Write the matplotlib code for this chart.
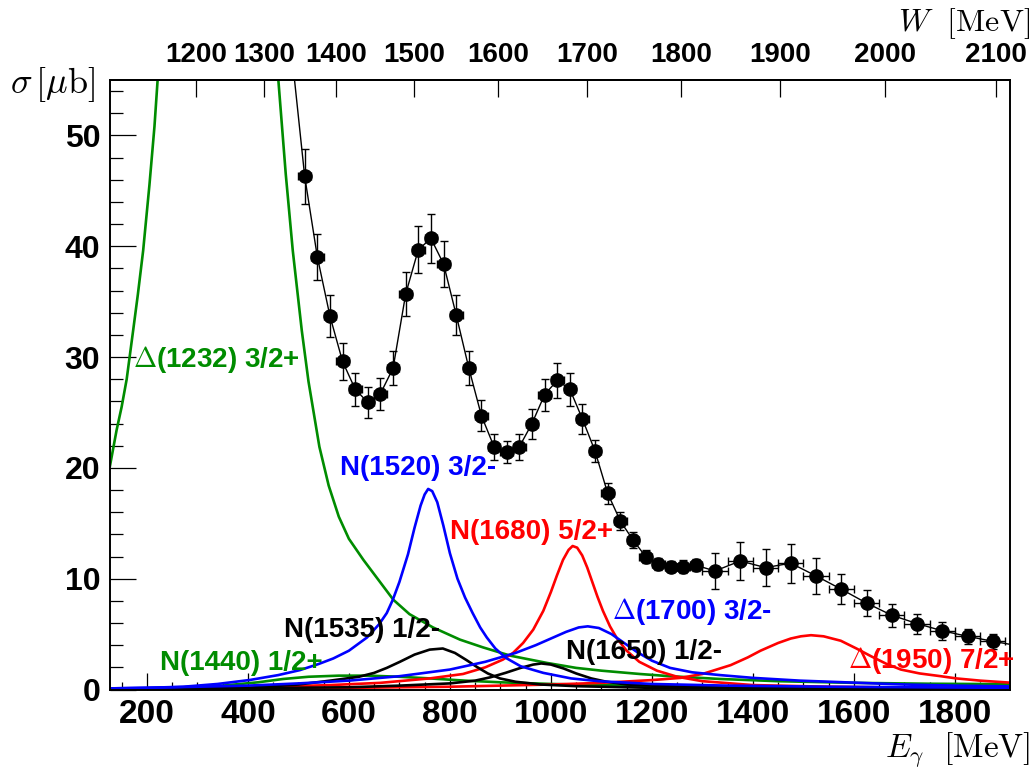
import numpy as np
import matplotlib
matplotlib.use('Agg')
import matplotlib.pyplot as plt
from matplotlib.ticker import MultipleLocator

plt.rcParams['font.family'] = ['Liberation Sans', 'DejaVu Sans']
plt.rcParams['font.weight'] = 'bold'
plt.rcParams['mathtext.fontset'] = 'cm'

M_P = 938.272  # proton mass [MeV]

# measured total cross section
e_gamma = [512.5, 537.5, 562.5, 587.5, 612.5, 637.5, 662.5, 687.5, 712.5, 737.5,
           762.5, 787.5, 812.5, 837.5, 862.5, 887.5, 912.5, 937.5, 962.5, 987.5,
           1012.5, 1037.5, 1062.5, 1087.5, 1112.5, 1137.5, 1162.5, 1187.5, 1212.5, 1237.5,
           1262.5, 1287.5, 1325, 1375, 1425, 1475, 1525, 1575, 1625, 1675,
           1725, 1775, 1825, 1875]
sigma = [46.3, 39.05, 33.7, 29.6, 27.1, 25.9, 26.7, 29.0, 35.7, 39.7,
         40.7, 38.4, 33.8, 29.0, 24.7, 21.9, 21.4, 21.9, 24.0, 26.6,
         27.9, 27.1, 24.4, 21.5, 17.7, 15.2, 13.5, 12.0, 11.3, 11.1,
         11.1, 11.2, 10.7, 11.6, 11.0, 11.4, 10.25, 9.05, 7.8, 6.7,
         5.95, 5.3, 4.8, 4.35]
sigma_err = [2.5, 2.1, 1.9, 1.7, 1.5, 1.4, 1.45, 1.55, 1.95, 2.1,
             2.2, 2.05, 1.8, 1.55, 1.4, 1.2, 1.0, 1.2, 1.35, 1.45,
             1.6, 1.5, 1.35, 1.0, 0.95, 0.8, 0.75, 0.6, 0.55, 0.5,
             0.55, 0.55, 1.65, 1.75, 1.7, 1.75, 1.6, 1.35, 1.2, 1.05,
             0.9, 0.8, 0.7, 0.65]
e_halfbin = [12.5] * 32 + [25] * 12
# neighbouring points of the connecting line outside the frame
line_e_before, line_s_before = 487.5, 57.1
line_e_after, line_s_after = 1925, 3.95

# resonance contributions
e_d1232 = [127, 140, 150, 160, 172.8, 182, 192.6, 205, 215, 222, 250, 340, 430, 460.5, 475, 488.9,
           506.7, 520, 541.6, 560, 580, 600, 628.7, 660, 688, 720, 766.6, 820, 865.6, 920, 992,
           1050, 1100, 1176, 1236, 1335, 1450, 1600, 1750, 1909]
s_d1232 = [20.2, 23.4, 25.5, 28.0, 32.4, 35.6, 39.6, 45.5, 50.8, 55.5, 75, 110, 72, 54.9, 46.5, 39.6,
           32.4, 27.8, 21.9, 18.4, 15.6, 13.6, 11.7, 9.8, 8.1, 6.8, 5.6, 4.5, 3.8, 3.05, 2.4,
           1.95, 1.7, 1.4, 1.2, 0.95, 0.75, 0.6, 0.52, 0.48]

e_n1440 = [127, 250, 350, 420, 470, 520, 580, 640, 700, 760, 830, 900, 1000, 1150, 1350, 1600, 1909]
s_n1440 = [0.05, 0.15, 0.35, 0.65, 0.95, 1.15, 1.25, 1.25, 1.15, 1.0, 0.8, 0.65, 0.5, 0.35, 0.25, 0.18, 0.12]

e_n1520 = [127, 200, 272, 340, 404, 460, 503, 540, 569, 600, 636, 660, 675, 687, 700, 717, 730, 742, 750,
           757, 765, 775, 787, 800, 815, 830, 845, 860, 873, 890, 911, 940, 985, 1040, 1095,
           1200, 1350, 1550, 1909]
s_n1520 = [0.1, 0.15, 0.25, 0.5, 0.86, 1.3, 1.75, 2.3, 2.8, 3.5, 4.7, 5.9, 6.9, 8.1, 9.7, 12.2, 14.6, 16.6, 17.6,
           18.1, 17.9, 16.9, 14.8, 12.3, 10.0, 8.3, 6.9, 5.6, 4.7, 3.7, 2.85, 2.1, 1.5, 1.0, 0.75,
           0.5, 0.35, 0.25, 0.15]

e_n1535 = [127, 400, 500, 563, 620, 650, 675, 701, 730, 760, 786, 810, 833, 853, 875, 899, 930, 980, 1050,
           1200, 1500, 1909]
s_n1535 = [0.02, 0.15, 0.45, 0.8, 1.15, 1.5, 1.95, 2.5, 3.15, 3.6, 3.7, 3.3, 2.65, 2.05, 1.45, 1.0, 0.7, 0.45, 0.3,
           0.15, 0.08, 0.05]

e_n1650 = [127, 600, 700, 800, 850, 880, 910, 940, 965, 981, 1000, 1025, 1050, 1080, 1110, 1150, 1250,
           1400, 1909]
s_n1650 = [0.01, 0.2, 0.35, 0.55, 0.8, 1.1, 1.5, 1.95, 2.25, 2.35, 2.25, 1.9, 1.45, 1.0, 0.7, 0.45, 0.25,
           0.12, 0.05]

e_n1680 = [127, 385, 563, 662, 760, 826, 870, 905, 925, 945, 965, 985, 1000, 1012, 1024, 1035, 1043, 1052,
           1062, 1072, 1082, 1092, 1103, 1117, 1131, 1150, 1175, 1210, 1250, 1300, 1400, 1550, 1750, 1909]
s_n1680 = [0.05, 0.15, 0.4, 0.6, 1.0, 1.4, 2.0, 2.7, 3.3, 4.2, 5.4, 7.1, 8.8, 10.3, 11.7, 12.6, 12.95, 12.8,
           12.1, 11.0, 9.7, 8.4, 7.1, 5.7, 4.6, 3.5, 2.5, 1.7, 1.15, 0.75, 0.4, 0.25, 0.15, 0.1]

e_d1700 = [127, 250, 400, 500, 600, 700, 800, 870, 930, 970, 1000, 1030, 1055, 1073, 1095, 1120, 1145,
           1170, 1200, 1236, 1280, 1335, 1400, 1493, 1600, 1700, 1800, 1909]
s_d1700 = [0.1, 0.2, 0.35, 0.55, 0.8, 1.2, 1.8, 2.5, 3.3, 4.0, 4.6, 5.2, 5.6, 5.7, 5.55, 5.0, 4.2,
           3.4, 2.6, 1.95, 1.55, 1.3, 1.05, 0.8, 0.62, 0.45, 0.35, 0.28]

e_d1950 = [127, 500, 800, 1000, 1100, 1200, 1257, 1300, 1356, 1390, 1415, 1450, 1475, 1495, 1515, 1540,
           1574, 1605, 1634, 1665, 1693, 1730, 1772, 1803, 1850, 1909]
s_d1950 = [0.02, 0.1, 0.25, 0.45, 0.6, 0.85, 1.05, 1.4, 2.2, 2.9, 3.5, 4.2, 4.6, 4.8, 4.9, 4.8,
           4.4, 3.7, 3.0, 2.3, 1.8, 1.45, 1.2, 1.0, 0.8, 0.62]

GREEN = '#008c00'
BLUE = '#0000ff'
RED = '#ff0000'

fig = plt.figure(figsize=(10.33, 7.71), dpi=100)
ax = fig.add_axes([0.1065, 0.1057, 0.8712, 0.7905])

lw = 1.9
ax.plot(e_d1232, s_d1232, color=GREEN, lw=lw)
ax.plot(e_n1440, s_n1440, color=GREEN, lw=lw)
ax.plot(e_n1680, s_n1680, color=RED, lw=lw)
ax.plot(e_d1950, s_d1950, color=RED, lw=lw)
ax.plot(e_n1535, s_n1535, color='black', lw=lw)
ax.plot(e_n1650, s_n1650, color='black', lw=lw)
ax.plot(e_n1520, s_n1520, color=BLUE, lw=lw)
ax.plot(e_d1700, s_d1700, color=BLUE, lw=lw)

ax.plot([line_e_before] + e_gamma + [line_e_after],
        [line_s_before] + sigma + [line_s_after], color='black', lw=1.0)
ax.errorbar(e_gamma, sigma, yerr=sigma_err, xerr=e_halfbin, fmt='o', color='black',
            ms=9.5, elinewidth=1.0, capsize=3, capthick=1.0)

labels = [
    (173, 29.8, r'$\Delta$(1232) 3/2+', GREEN),
    (582, 19.95, 'N(1520) 3/2-', BLUE),
    (800, 14.2, 'N(1680) 5/2+', RED),
    (1121, 7.0, r'$\Delta$(1700) 3/2-', BLUE),
    (472, 5.4, 'N(1535) 1/2-', 'black'),
    (1030, 3.4, 'N(1650) 1/2-', 'black'),
    (226, 2.4, 'N(1440) 1/2+', GREEN),
    (1588, 2.6, r'$\Delta$(1950) 7/2+', RED),
]
for x, y, txt, c in labels:
    ax.text(x, y, txt, color=c, fontsize=20, fontweight='bold', ha='left', va='center')

ax.set_xlim(127, 1909)
ax.set_ylim(0, 55)
ax.set_xticks(range(200, 1801, 200))
ax.xaxis.set_minor_locator(MultipleLocator(50))
ax.set_yticks(range(0, 51, 10))
ax.yaxis.set_minor_locator(MultipleLocator(2))
ax.tick_params(axis='x', which='major', direction='in', length=12, width=0.9, labelsize=24, pad=7)
ax.tick_params(axis='x', which='minor', direction='in', length=6, width=0.9)
ax.tick_params(axis='y', which='major', direction='in', length=19, width=0.9, labelsize=23, pad=7)
ax.tick_params(axis='y', which='minor', direction='in', length=9.5, width=0.9)
ax.tick_params(top=False, right=False, which='both')
for lab in ax.get_xticklabels() + ax.get_yticklabels():
    lab.set_fontweight('bold')
for sp in ax.spines.values():
    sp.set_linewidth(1.4)


def e_to_w(e):
    return np.sqrt(np.clip(M_P ** 2 + 2 * M_P * np.asarray(e, dtype=float), 0, None))


def w_to_e(w):
    w = np.asarray(w, dtype=float)
    return (w ** 2 - M_P ** 2) / (2 * M_P)


top = ax.secondary_xaxis('top', functions=(e_to_w, w_to_e))
top.set_xticks(range(1200, 2101, 100))
top.tick_params(direction='in', length=12, width=0.9, labelsize=20, pad=9)
for lab in top.get_xticklabels():
    lab.set_fontweight('bold')
top.spines['top'].set_linewidth(1.4)

fig.text(0.01, 0.89, r'$\sigma\,[\mu{\rm b}]$', fontsize=26, ha='left', va='center')
fig.text(0.997, 0.97, r'$W\ \ [{\rm MeV}]$', fontsize=23, ha='right', va='center')
fig.text(0.997, 0.026, r'$E_\gamma\ \ [{\rm MeV}]$', fontsize=24, ha='right', va='center')

fig.savefig('out.png', dpi=100)
